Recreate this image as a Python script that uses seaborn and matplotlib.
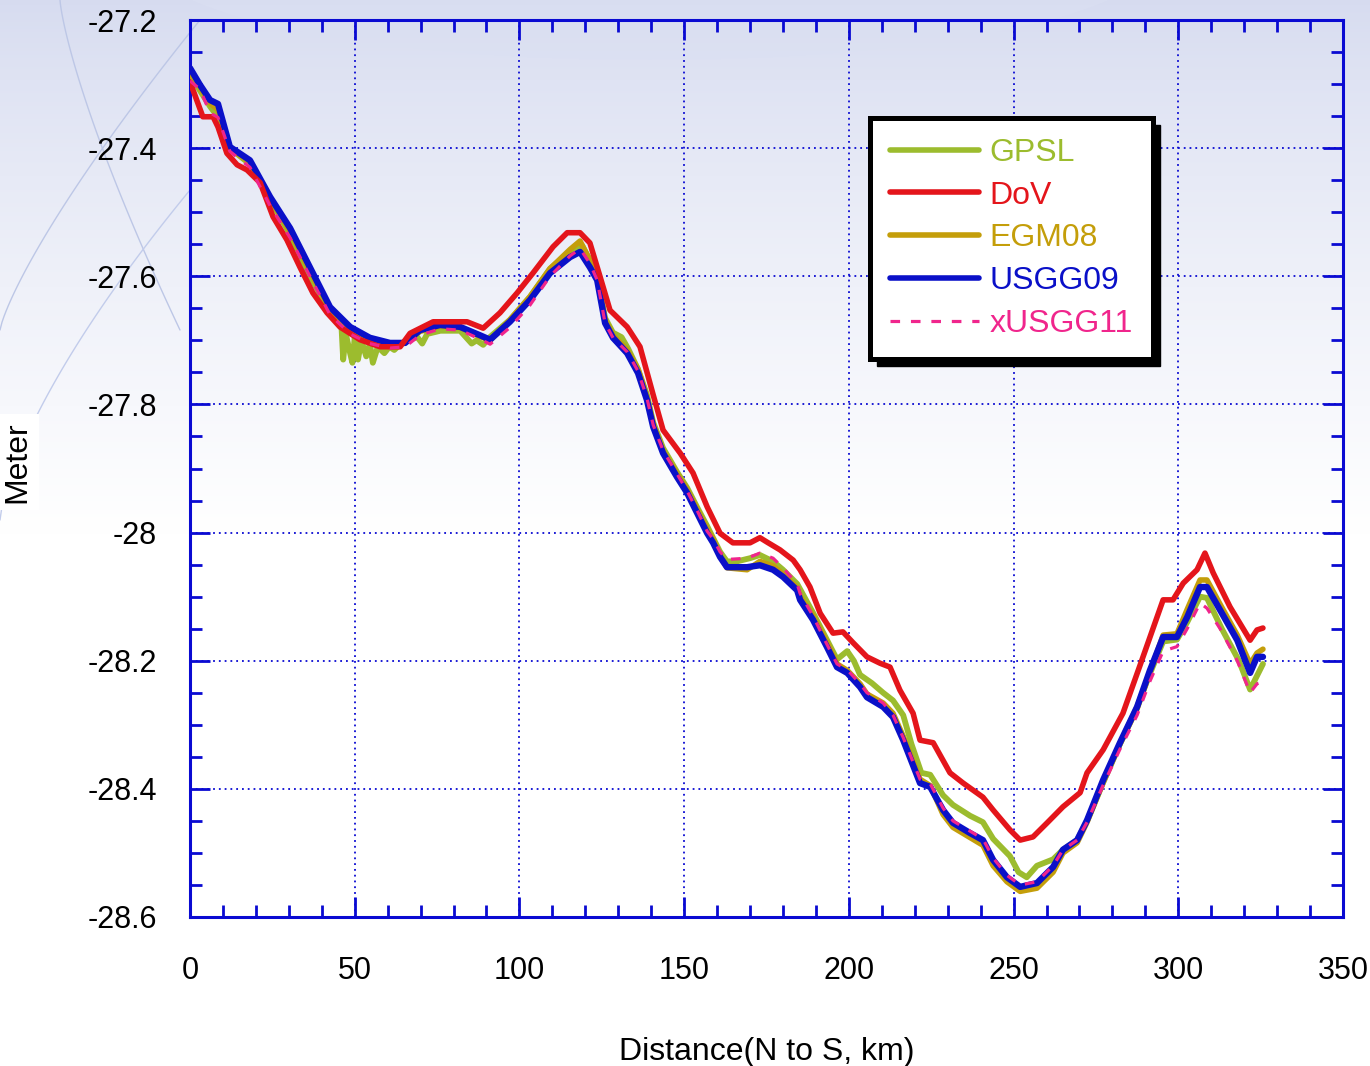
import numpy as np
import pandas as pd
import matplotlib
matplotlib.use("Agg")
import matplotlib.pyplot as plt
import seaborn as sns
from matplotlib.ticker import MultipleLocator, FuncFormatter
from matplotlib.lines import Line2D
from matplotlib.patches import Rectangle, Ellipse

# ---------------- data ----------------
x_usgg09 = [0, 3.0, 6.1, 8.5, 12.1, 18.2, 24.3, 30.4, 36.4, 42.5, 48.6, 54.6, 60.7, 65.3, 69.8,
            75.9, 82.0, 88.0, 91.1, 97.1, 103.2, 109.3, 115.4, 118.4, 121.4, 123.6, 126.0, 128.4,
            132.7, 136.0, 138.7, 140.6, 143.6, 147.8, 150.9, 153.9, 157.0, 158.8, 160.9, 163.0,
            169.1, 173.0, 177.0, 180.0, 184.3, 185.2, 189.1, 193.4, 196.4, 199.5, 203.4, 205.5,
            210.4, 213.4, 216.5, 221.6, 224.7, 228.6, 231.6, 236.8, 240.7, 243.8, 248.0, 252.0,
            257.1, 262.0, 265.0, 269.3, 272.3, 277.2, 282.3, 287.5, 291.4, 295.4, 299.6, 302.7,
            306.6, 308.7, 312.7, 317.9, 321.8, 323.9, 325.7]
usgg09 = [-27.275, -27.301, -27.325, -27.331, -27.398, -27.419, -27.476, -27.525, -27.586, -27.648,
          -27.679, -27.696, -27.704, -27.704, -27.684, -27.676, -27.679, -27.692, -27.699, -27.671,
          -27.637, -27.595, -27.570, -27.562, -27.586, -27.606, -27.673, -27.696, -27.720, -27.751,
          -27.793, -27.835, -27.876, -27.913, -27.938, -27.969, -28.001, -28.016, -28.038, -28.054,
          -28.054, -28.051, -28.058, -28.069, -28.090, -28.105, -28.136, -28.179, -28.210, -28.219,
          -28.241, -28.257, -28.272, -28.288, -28.324, -28.391, -28.397, -28.433, -28.453, -28.469,
          -28.480, -28.511, -28.538, -28.553, -28.547, -28.522, -28.495, -28.480, -28.449, -28.386,
          -28.328, -28.272, -28.215, -28.163, -28.163, -28.132, -28.085, -28.085, -28.121, -28.168,
          -28.219, -28.194, -28.194]

egm08 = [-27.285, -27.305, -27.330, -27.340, -27.400, -27.422, -27.478, -27.530, -27.592, -27.652,
         -27.684, -27.700, -27.708, -27.704, -27.686, -27.678, -27.680, -27.694, -27.700, -27.668,
         -27.632, -27.588, -27.558, -27.545, -27.575, -27.600, -27.668, -27.692, -27.715, -27.745,
         -27.788, -27.830, -27.872, -27.908, -27.933, -27.963, -27.995, -28.010, -28.035, -28.055,
         -28.058, -28.045, -28.052, -28.065, -28.086, -28.100, -28.130, -28.172, -28.205, -28.215,
         -28.236, -28.252, -28.266, -28.282, -28.318, -28.385, -28.395, -28.440, -28.460, -28.476,
         -28.488, -28.520, -28.545, -28.560, -28.555, -28.530, -28.500, -28.484, -28.452, -28.390,
         -28.330, -28.275, -28.218, -28.160, -28.158, -28.120, -28.074, -28.074, -28.112, -28.160,
         -28.205, -28.188, -28.182]

xusgg11 = [-27.295, -27.308, -27.345, -27.352, -27.405, -27.430, -27.490, -27.540, -27.600, -27.660,
           -27.690, -27.705, -27.712, -27.710, -27.692, -27.682, -27.684, -27.698, -27.706, -27.680,
           -27.645, -27.600, -27.568, -27.557, -27.580, -27.606, -27.673, -27.696, -27.718, -27.748,
           -27.790, -27.832, -27.872, -27.908, -27.935, -27.965, -27.998, -28.010, -28.030, -28.042,
           -28.040, -28.032, -28.040, -28.055, -28.080, -28.095, -28.130, -28.175, -28.205, -28.214,
           -28.236, -28.250, -28.266, -28.285, -28.320, -28.385, -28.392, -28.430, -28.450, -28.466,
           -28.478, -28.508, -28.535, -28.550, -28.545, -28.520, -28.495, -28.480, -28.452, -28.394,
           -28.338, -28.285, -28.232, -28.185, -28.178, -28.150, -28.110, -28.118, -28.150, -28.200,
           -28.250, -28.236, -28.233]

x_dov = [0, 0.9, 3.9, 7.0, 8.5, 11.2, 14.3, 17.3, 21.3, 25.2, 29.4, 33.4, 37.3, 41.6, 45.5, 51.6,
         57.7, 63.8, 66.8, 73.8, 84.1, 89.0, 94.1, 99.3, 104.1, 110.2, 114.5, 118.4, 121.4, 124.5,
         127.5, 132.7, 136.6, 140.6, 143.6, 148.8, 152.7, 157.0, 160.9, 164.8, 170.0, 173.0, 175.2,
         179.1, 183.1, 185.2, 188.2, 191.3, 195.2, 198.2, 201.3, 205.5, 209.5, 212.5, 215.5, 219.5,
         221.6, 225.6, 230.7, 234.7, 240.7, 243.8, 248.9, 252.0, 255.9, 260.2, 265.0, 270.2, 272.3,
         277.2, 283.2, 288.4, 295.4, 298.4, 301.5, 305.7, 308.1, 310.6, 315.7, 321.8, 323.9, 325.7]
dov = [-27.297, -27.309, -27.351, -27.351, -27.367, -27.408, -27.426, -27.434, -27.454, -27.507,
       -27.543, -27.586, -27.626, -27.657, -27.679, -27.699, -27.710, -27.710, -27.689, -27.671,
       -27.671, -27.681, -27.657, -27.626, -27.595, -27.554, -27.532, -27.532, -27.548, -27.601,
       -27.653, -27.679, -27.710, -27.785, -27.840, -27.876, -27.907, -27.960, -28.001, -28.016,
       -28.016, -28.008, -28.015, -28.027, -28.043, -28.058, -28.085, -28.126, -28.157, -28.155,
       -28.172, -28.194, -28.204, -28.210, -28.246, -28.282, -28.324, -28.328, -28.375, -28.391,
       -28.413, -28.433, -28.464, -28.480, -28.475, -28.453, -28.428, -28.406, -28.375, -28.339,
       -28.282, -28.207, -28.105, -28.105, -28.079, -28.058, -28.032, -28.063, -28.116, -28.168,
       -28.152, -28.149]

x_gpsl = [0, 3.0, 6.1, 9.0, 12.1, 18.2, 24.3, 30.4, 36.4, 42.5, 46.0, 46.5, 47.3, 48.6, 49.3,
          50.0, 51.0, 52.0, 53.5, 54.6, 55.5, 57.0, 59.0, 60.5, 62.0, 64.0, 66.0, 69.0, 70.5, 72.0,
          76.0, 82.0, 85.5, 87.0, 89.0, 91.0, 97.1, 103.2, 109.3, 115.4, 119.0, 121.4, 124.0, 126.0,
          128.4, 131.0, 133.0, 136.0, 138.7, 140.6, 143.6, 147.8, 150.9, 153.9, 157.0, 160.9, 163.0,
          166.0, 170.0, 173.0, 177.0, 180.0, 184.3, 189.1, 193.4, 196.4, 199.5, 201.5, 203.4, 207.0,
          210.4, 213.4, 216.5, 219.0, 222.0, 224.7, 228.6, 231.6, 236.8, 240.7, 243.8, 248.9, 251.5,
          254.0, 257.1, 262.0, 265.0, 269.3, 272.3, 277.2, 282.3, 287.5, 291.4, 295.4, 299.6, 302.7,
          306.6, 308.7, 313.2, 318.4, 321.8, 325.7]
gpsl = [-27.285, -27.310, -27.335, -27.355, -27.400, -27.425, -27.480, -27.535, -27.600, -27.655,
        -27.680, -27.730, -27.690, -27.720, -27.735, -27.695, -27.730, -27.700, -27.725, -27.705,
        -27.735, -27.710, -27.720, -27.710, -27.715, -27.705, -27.700, -27.695, -27.705, -27.690,
        -27.685, -27.685, -27.705, -27.700, -27.707, -27.695, -27.668, -27.632, -27.588, -27.562,
        -27.552, -27.575, -27.610, -27.665, -27.688, -27.695, -27.713, -27.745, -27.785, -27.828,
        -27.868, -27.905, -27.930, -27.960, -27.990, -28.030, -28.045, -28.045, -28.040, -28.035,
        -28.045, -28.058, -28.080, -28.125, -28.168, -28.198, -28.185, -28.200, -28.222, -28.235,
        -28.250, -28.262, -28.285, -28.330, -28.375, -28.378, -28.410, -28.425, -28.442, -28.452,
        -28.478, -28.505, -28.530, -28.538, -28.520, -28.510, -28.495, -28.480, -28.450, -28.390,
        -28.330, -28.272, -28.220, -28.170, -28.167, -28.140, -28.100, -28.102, -28.150, -28.200,
        -28.245, -28.205]

labels = ["GPSL", "DoV", "EGM08", "USGG09", "xUSGG11"]
x_ticks = [0, 50, 100, 150, 200, 250, 300, 350]
y_ticks = [-27.2, -27.4, -27.6, -27.8, -28.0, -28.2, -28.4, -28.6]

colors = {"GPSL": "#9cbc2e", "DoV": "#e4151b", "EGM08": "#c49e0a",
          "USGG09": "#0a10c8", "xUSGG11": "#f0258c"}

# ---------------- style ----------------
sns.set_theme(style="white")
plt.rcParams["font.family"] = ["Liberation Sans", "DejaVu Sans"]
plt.rcParams["axes.unicode_minus"] = False

fig = plt.figure(figsize=(13.7, 10.66), dpi=100)

# background gradient (decorative)
bg = fig.add_axes([0, 0, 1, 1], zorder=-10)
t = np.linspace(0, 1, 400)[:, None]
top = np.array([0.84, 0.86, 0.94])
frac = np.clip(t / 0.5, 0, 1) ** 0.8
img = top + (1 - top) * frac
img = np.tile(img[:, None, :], (1, 10, 1))
bg.imshow(img, extent=[0, 1370, 1066, 0], aspect="auto")
bg.add_patch(Ellipse((650, -40), 1000, 200, color=(0.86, 0.88, 0.95), alpha=0.5, lw=0))
th = np.linspace(0, 1, 100)
bg.plot(60 + 120 * th ** 1.3, 0 + 330 * th, color=(0.74, 0.78, 0.90), lw=1)
bg.plot(0 + 200 * th, 330 - 310 * th ** 0.8, color=(0.74, 0.78, 0.90), lw=1)
bg.plot(0 + 190 * th, 520 - 330 * th ** 0.7, color=(0.76, 0.80, 0.92), lw=1)
bg.set_xlim(0, 1370)
bg.set_ylim(1066, 0)
bg.axis("off")

ax = fig.add_axes([190 / 1370, 1 - 917 / 1066, 1153 / 1370, 897 / 1066])
ax.patch.set_alpha(0)

blue = "#0a0ad2"

sns.lineplot(x=x_gpsl, y=gpsl, ax=ax, color=colors["GPSL"], lw=4.2, sort=False,
             estimator=None, legend=False, zorder=2)
sns.lineplot(x=x_usgg09, y=egm08, ax=ax, color=colors["EGM08"], lw=4.0, sort=False,
             estimator=None, legend=False, zorder=3)
sns.lineplot(x=x_usgg09, y=usgg09, ax=ax, color=colors["USGG09"], lw=4.6, sort=False,
             estimator=None, legend=False, zorder=4)
sns.lineplot(x=x_dov, y=dov, ax=ax, color=colors["DoV"], lw=4.0, sort=False,
             estimator=None, legend=False, zorder=5)
sns.lineplot(x=x_usgg09, y=xusgg11, ax=ax, color=colors["xUSGG11"], lw=2.3, sort=False,
             estimator=None, legend=False, zorder=6, linestyle=(0, (3.0, 3.4)))

ax.set_xlim(0, 350)
ax.set_ylim(-28.6, -27.2)
ax.set_xticks(x_ticks)
ax.set_yticks(y_ticks)
ax.xaxis.set_minor_locator(MultipleLocator(10))
ax.yaxis.set_minor_locator(MultipleLocator(0.05))
ax.yaxis.set_major_formatter(FuncFormatter(lambda v, p: f"{v:g}"))
ax.xaxis.set_major_formatter(FuncFormatter(lambda v, p: f"{v:g}"))

for s in ax.spines.values():
    s.set_visible(True)
    s.set_color(blue)
    s.set_linewidth(2.2)

ax.tick_params(which="both", direction="in", colors=blue, top=True, right=True,
               bottom=True, left=True, width=2.0, labelcolor="black", labelsize=22)
ax.tick_params(which="major", length=14.5)
ax.tick_params(which="minor", length=8.5)
ax.tick_params(axis="x", which="major", pad=28)
ax.tick_params(axis="y", which="major", pad=24)

ax.grid(True, which="major", color=blue, linestyle=(0, (1, 2.2)), lw=1.3)
ax.set_axisbelow(True)

ax.set_xlabel("Distance(N to S, km)", fontsize=23, color="black")
ax.xaxis.set_label_coords(0.5, -0.134)
ax.set_ylabel("Meter", fontsize=23, color="black",
              bbox=dict(facecolor="white", edgecolor="none", pad=5))
ax.yaxis.set_label_coords(-0.137, 0.507)

handles = []
for lab in labels:
    if lab == "xUSGG11":
        handles.append(Line2D([], [], color=colors[lab], lw=2.3, linestyle=(0, (3.0, 3.4))))
    else:
        handles.append(Line2D([], [], color=colors[lab], lw=4.0))
leg = ax.legend(handles, labels, loc="upper left", bbox_to_anchor=(0.5898, 0.8907),
                borderaxespad=0, fontsize=23, handlelength=2.8, handletextpad=0.33,
                borderpad=0.62, labelspacing=0.40, fancybox=False, framealpha=1,
                edgecolor="black", facecolor="white")
leg.get_frame().set_linewidth(3.6)
leg.set_zorder(10)
for txt, lab in zip(leg.get_texts(), labels):
    txt.set_color(colors[lab])

fig.canvas.draw()
bb = leg.get_window_extent()
shadow = Rectangle((bb.x0 + 7, bb.y0 - 7), bb.width, bb.height, transform=None,
                   facecolor="black", edgecolor="black", zorder=9.5, clip_on=False)
ax.add_artist(shadow)

fig.savefig("out.png", dpi=100)
